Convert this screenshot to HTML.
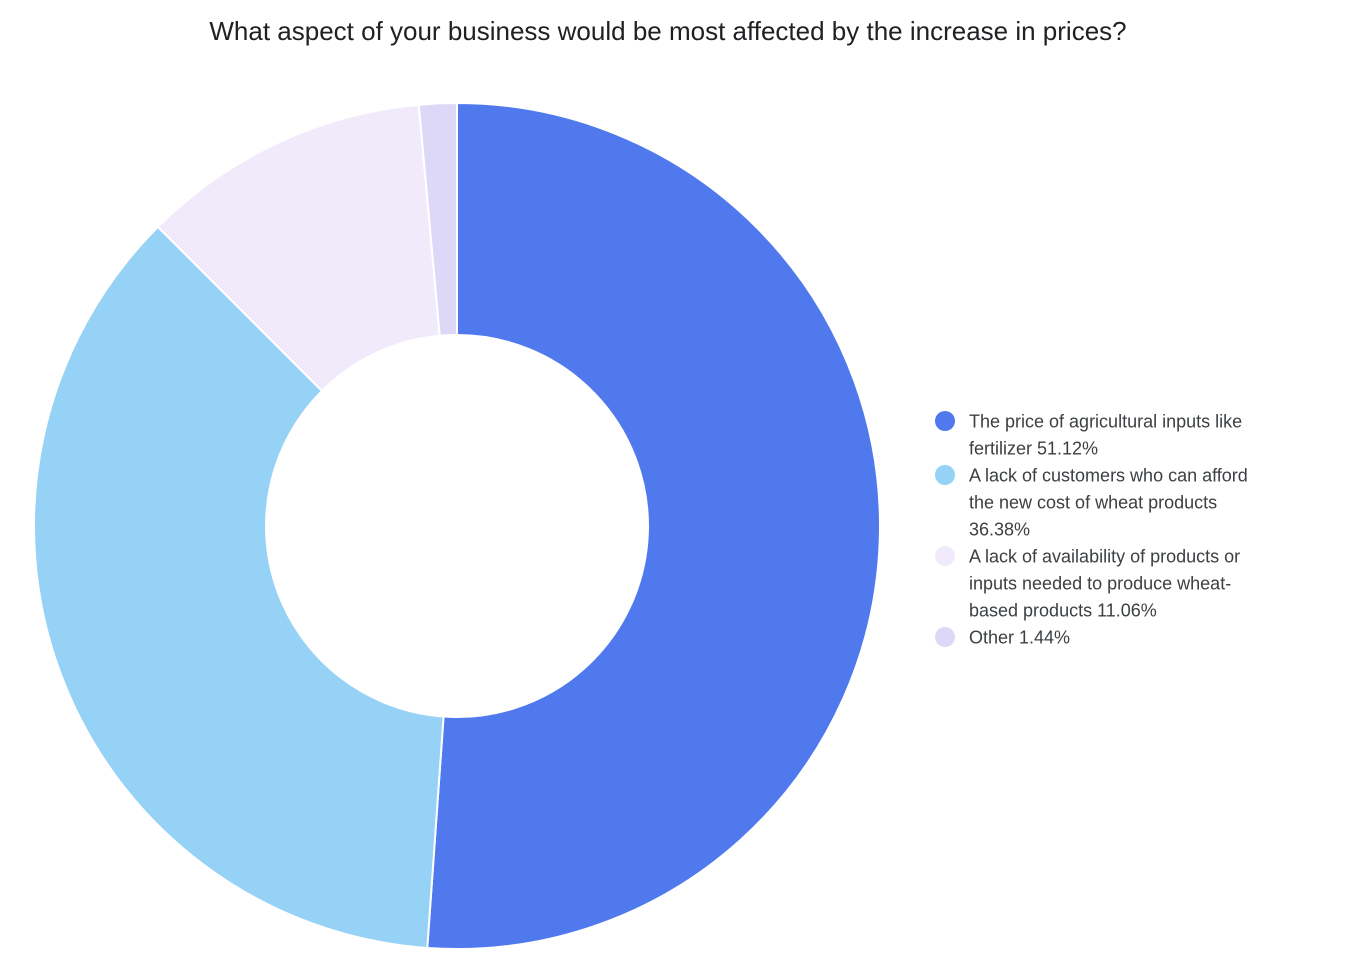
<!DOCTYPE html>
<html><head><meta charset="utf-8"><style>
body{margin:0;background:#fff;width:1348px;height:968px;overflow:hidden;font-family:"Liberation Sans",Arial,sans-serif}
</style></head><body>
<svg id="c" width="1348" height="968">
<text x="668" y="40" text-anchor="middle" font-size="26" fill="#202124">What aspect of your business would be most affected by the increase in prices?</text>
<g id="slices"></g><g id="legend"></g>
</svg>
<script>
const categories=[["The price of agricultural inputs like","fertilizer 51.12%"],["A lack of customers who can afford","the new cost of wheat products","36.38%"],["A lack of availability of products or","inputs needed to produce wheat-","based products 11.06%"],["Other 1.44%"]];
const values=[51.12,36.38,11.06,1.44];
const colors=["#5079ee","#95d2f5","#f0eafb","#ddd8f7"];
const ns="http://www.w3.org/2000/svg";
const cx=457,cy=526,R=423,r=191;
const total=values.reduce((a,b)=>a+b,0);
let a0=0;
const sg=document.getElementById('slices');
function pt(rad,a){return [cx+rad*Math.sin(a),cy-rad*Math.cos(a)];}
values.forEach((v,i)=>{
 const a1=a0+v/total*2*Math.PI;
 const large=(a1-a0)>Math.PI?1:0;
 const [x1,y1]=pt(R,a0),[x2,y2]=pt(R,a1),[x3,y3]=pt(r,a1),[x4,y4]=pt(r,a0);
 const p=document.createElementNS(ns,'path');
 p.setAttribute('d',`M${x1},${y1}A${R},${R} 0 ${large} 1 ${x2},${y2}L${x3},${y3}A${r},${r} 0 ${large} 0 ${x4},${y4}Z`);
 p.setAttribute('fill',colors[i]);p.setAttribute('stroke','#fff');p.setAttribute('stroke-width','2');
 
 
 sg.appendChild(p);a0=a1;
});
const lg=document.getElementById('legend');
let y=421;
categories.forEach((lines,i)=>{
 const g=document.createElementNS(ns,'g');
 
 
 const c=document.createElementNS(ns,'circle');
 c.setAttribute('cx',945);c.setAttribute('cy',y);c.setAttribute('r',10);c.setAttribute('fill',colors[i]);
 g.appendChild(c);
 lines.forEach(t=>{
  const tx=document.createElementNS(ns,'text');
  tx.setAttribute('x',969);tx.setAttribute('y',y+6.5);tx.setAttribute('font-size','18');tx.setAttribute('fill','#3c4043');
  tx.textContent=t;g.appendChild(tx);y+=27;
 });
 lg.appendChild(g);
});
</script>
</body></html>
